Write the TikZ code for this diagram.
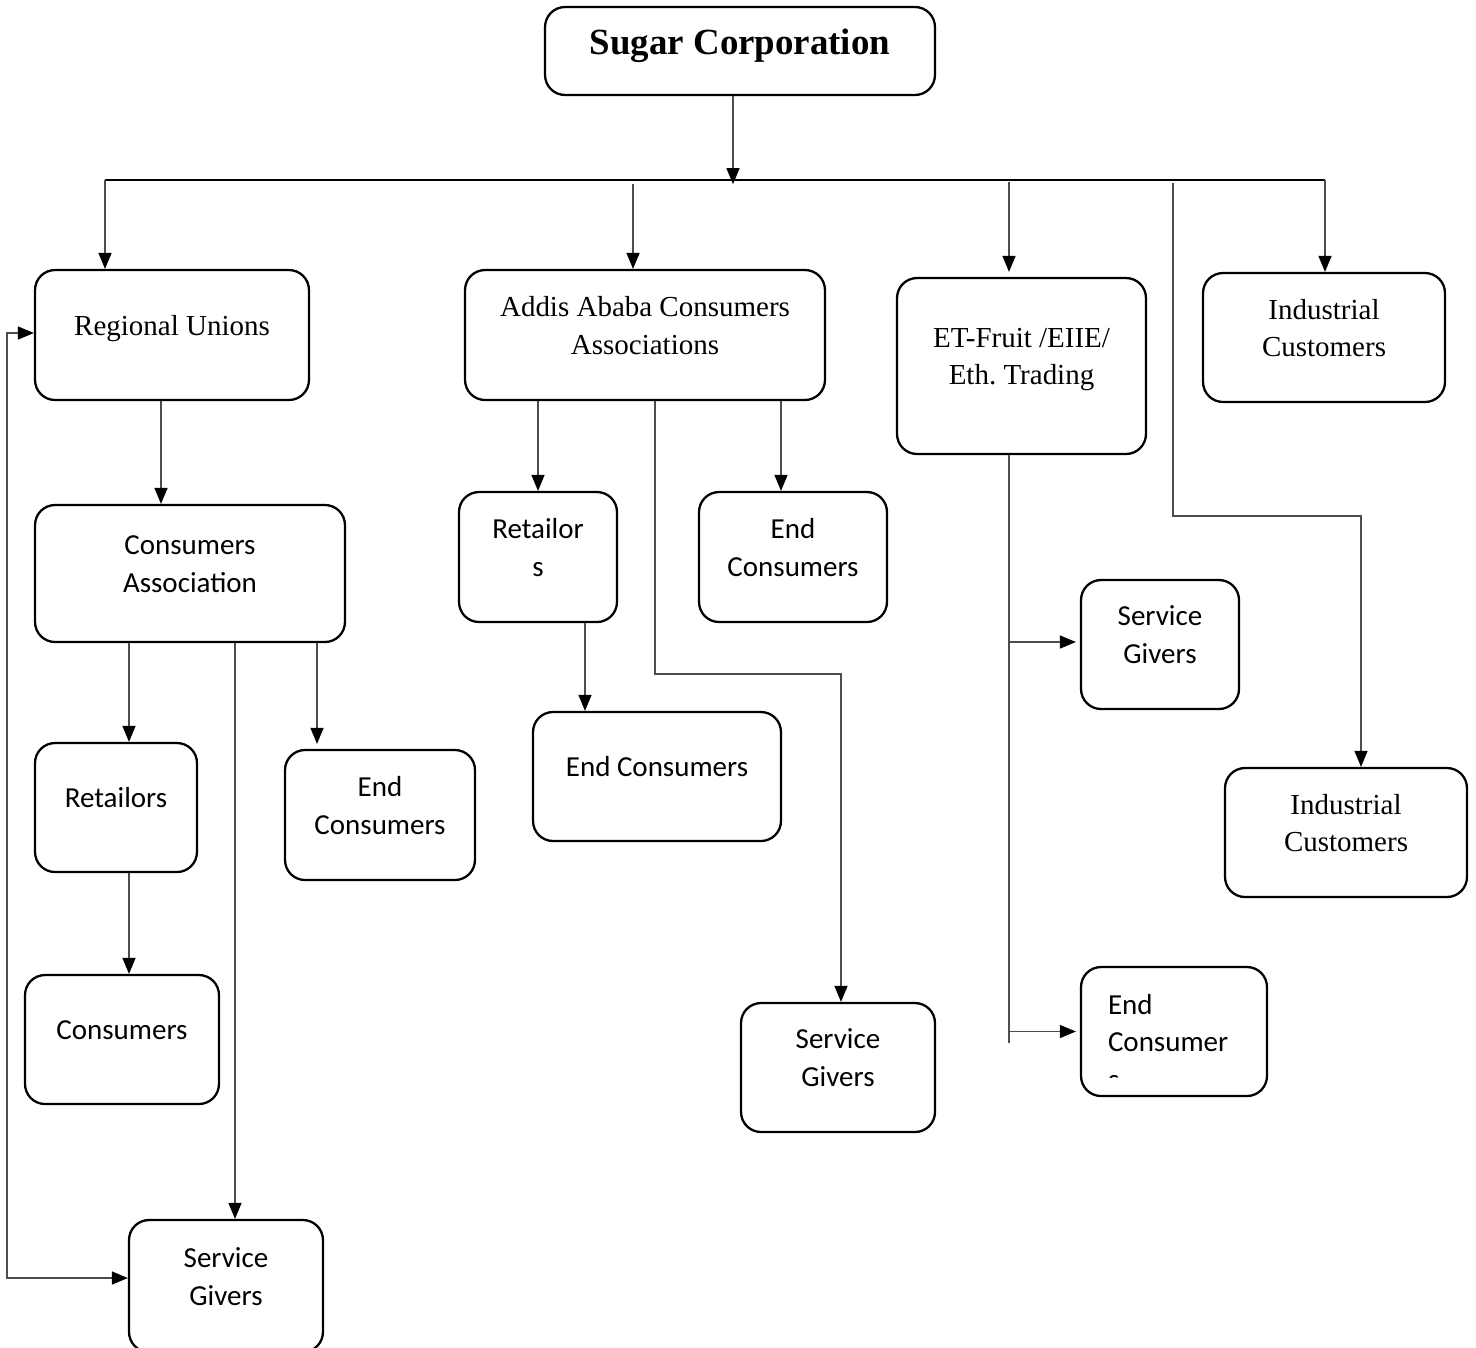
\documentclass[tikz,border=0pt]{standalone}
\usepackage{fontspec}
\setmainfont{Liberation Serif}
\setsansfont{Carlito}
\usetikzlibrary{arrows.meta}
\begin{document}
\begin{tikzpicture}[x=0.02cm,y=-0.02cm,>={Triangle[length=0.32cm,width=0.26cm,color=black]},
  box/.style={draw,line width=1.3pt,rounded corners=0.4cm,align=center,
    font=\fontsize{16.5}{21.5}\selectfont,execute at end node={\rule[-11pt]{0pt}{11pt}}},
  sf/.style={box,font=\sffamily\fontsize{16.5}{21.5}\selectfont},
  conn/.style={draw=black!70,line width=0.8pt}]
\useasboundingbox (0,0) rectangle (1476,1347);
% boxes
\node[box,minimum width=7.8cm,minimum height=1.76cm,font=\bfseries\fontsize{21}{25}\selectfont] (sugar) at (740,51) {Sugar Corporation};
\node[box,minimum width=5.48cm,minimum height=2.6cm] (ru) at (172,335) {Regional Unions};
\node[box,minimum width=7.2cm,minimum height=2.6cm] (aa) at (645,335) {Addis Ababa Consumers\\Associations};
\node[box,minimum width=4.98cm,minimum height=3.52cm] (et) at (1021.5,366) {ET-Fruit /EIIE/\\Eth.\ Trading};
\node[box,minimum width=4.84cm,minimum height=2.58cm] (ic1) at (1324,337.5) {Industrial\\Customers};
\node[sf,minimum width=6.2cm,minimum height=2.74cm] (ca) at (190,573.5) {Consumers\\Association};
\node[sf,minimum width=3.24cm,minimum height=2.58cm] (ret1) at (116,807.5) {Retailors};
\node[sf,minimum width=3.8cm,minimum height=2.6cm] (ec1) at (380,815) {End\\Consumers};
\node[sf,minimum width=3.88cm,minimum height=2.58cm] (con) at (122,1039.5) {Consumers};
\node[sf,minimum width=3.88cm,minimum height=2.64cm] (sg1) at (226,1286) {Service\\Givers};
\node[sf,minimum width=3.16cm,minimum height=2.6cm] (ret2) at (538,557) {Retailor\\s};
\node[sf,minimum width=3.76cm,minimum height=2.6cm] (ec2) at (793,557) {End\\Consumers};
\node[sf,minimum width=4.96cm,minimum height=2.58cm] (ec3) at (657,776.5) {End Consumers};
\node[sf,minimum width=3.88cm,minimum height=2.58cm] (sg2) at (838,1067.5) {Service\\Givers};
\node[sf,minimum width=3.16cm,minimum height=2.58cm] (sg3) at (1160,644.5) {Service\\Givers};
\node[box,minimum width=4.84cm,minimum height=2.58cm] (ic2) at (1346,832.5) {Industrial\\Customers};
\node[box,minimum width=3.72cm,minimum height=2.58cm] (ec4) at (1174,1031.5) {};
\begin{scope}
\clip (1083,969) rectangle (1265,1077);
\node[font=\sffamily\fontsize{16.5}{21.5}\selectfont,align=left,text width=2.64cm,inner sep=0pt] (ec4t) at (1174,1042) {End\\Consumer\\s};
\end{scope}
% top level
\coordinate (busL) at (105,180);
\coordinate (busR) at (1325,180);
\coordinate (bus2) at (1173,183);
\draw[->,conn] ([xshift=-0.14cm]sugar.south) -- ++(0,88);
\draw[line width=0.6pt] (busL) -- (busR);
\draw[->,conn] (busL) -- (busL |- ru.north);
\draw[->,conn] ([xshift=-0.24cm,yshift=1.7cm]aa.north) -- ([xshift=-0.24cm]aa.north);
\draw[->,conn] ([xshift=-0.25cm,yshift=1.9cm]et.north) -- ([xshift=-0.25cm,yshift=0.1cm]et.north);
\draw[->,conn] (busR) -- (busR |- ic1.north);
\draw[->,conn] (bus2) -- ++(0,333) -| ([xshift=0.3cm]ic2.north);
% regional unions
\draw[->,conn] ([xshift=-0.22cm]ru.south) -- ([xshift=-0.22cm]ru.south |- ca.north);
\draw[->,conn] ([xshift=0.26cm]ret1.north |- ca.south) -- ([xshift=0.26cm]ret1.north);
\draw[->,conn] ([xshift=0.18cm]sg1.north |- ca.south) -- ([xshift=0.18cm]sg1.north);
\draw[->,conn] ([xshift=-1.26cm]ec1.north |- ca.south) -- ([xshift=-1.26cm,yshift=0.1cm]ec1.north);
\draw[->,conn] ([xshift=0.26cm]ret1.south) -- ([xshift=0.26cm]ret1.south |- con.north);
\draw[<->,conn] ([yshift=0.16cm]sg1.west) -- ++(-121,0) |- ([yshift=0.04cm]ru.west);
% addis ababa
\draw[->,conn] (ret2.north |- aa.south) -- (ret2.north);
\draw[->,conn] ([xshift=-0.24cm]ec2.north |- aa.south) -- ([xshift=-0.24cm]ec2.north);
\draw[->,conn] ([xshift=0.2cm]aa.south) -- ++(0,273) -| ([xshift=0.06cm]sg2.north);
\draw[->,conn] ([xshift=0.94cm]ret2.south) -- ([xshift=0.94cm]ret2.south |- ec3.north);
% et-fruit
\draw[conn] ([xshift=-0.25cm]et.south) -- ++(0,588);
\draw[->,conn] ([xshift=-1.44cm,yshift=0.05cm]sg3.west) -- ([xshift=-0.08cm,yshift=0.05cm]sg3.west);
\draw[->,conn] ([xshift=-1.44cm]ec4.west) -- ([xshift=-0.08cm]ec4.west);
\end{tikzpicture}
\end{document}
